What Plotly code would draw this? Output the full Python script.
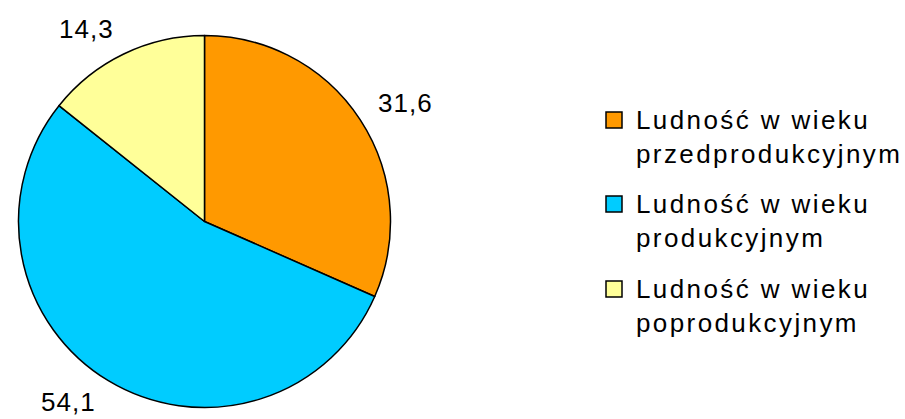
import plotly.graph_objects as go

categories = [
    "Ludność w wieku<br>przedprodukcyjnym",
    "Ludność w wieku<br>produkcyjnym",
    "Ludność w wieku<br>poprodukcyjnym",
]
values = [31.6, 54.1, 14.3]
colors = ["#FF9900", "#00CCFF", "#FFFF99"]
value_labels = [f"{v:.1f}".replace(".", ",") for v in values]

W, H = 905, 419
FONT = "Liberation Sans, Arial, sans-serif"

# pie placement (pixels)
cx, cy, r = 204.5, 221.5, 186

fig = go.Figure(
    go.Pie(
        labels=categories,
        values=values,
        sort=False,
        direction="clockwise",
        rotation=0,
        marker=dict(colors=colors, line=dict(color="#000000", width=1.5)),
        textinfo="none",
        hoverinfo="label+value",
        showlegend=False,
        domain=dict(
            x=[(cx - r) / W, (cx + r) / W],
            y=[(H - cy - r) / H, (H - cy + r) / H],
        ),
    )
)

# outside value labels
label_pos = [(405, 103), (68, 402), (86, 29)]
for txt, (px, py) in zip(value_labels, label_pos):
    fig.add_annotation(
        x=px / W, y=1 - py / H, xref="paper", yref="paper",
        text=f"<span style='letter-spacing:1px'>{txt}</span>",
        showarrow=False, xanchor="center", yanchor="middle",
        font=dict(family=FONT, size=26, color="#000000"),
    )

# legend (swatch + two-line label per category)
leg_x_sw, leg_x_txt = 606, 634
leg_y = [120, 204, 289]
for name, col, y in zip(categories, colors, leg_y):
    fig.add_shape(
        type="rect", xref="paper", yref="paper",
        x0=leg_x_sw / W, x1=(leg_x_sw + 16) / W,
        y0=1 - (y - 8) / H, y1=1 - (y + 8) / H,
        fillcolor=col, line=dict(color="#000000", width=1.5),
    )
    fig.add_annotation(
        x=leg_x_txt / W, y=1 - (y - 17) / H, xref="paper", yref="paper",
        text=f"<span style='letter-spacing:2.4px'>{name}</span>",
        showarrow=False, xanchor="left", yanchor="top", align="left",
        font=dict(family=FONT, size=26, color="#000000"),
    )

fig.update_layout(
    width=W, height=H,
    margin=dict(l=0, r=0, t=0, b=0),
    paper_bgcolor="#FFFFFF",
    plot_bgcolor="#FFFFFF",
    showlegend=False,
    font=dict(family=FONT),
)

fig.write_html(
    "out.html",
    config={"displayModeBar": False},
    post_script="document.body.style.margin='0';",
)
